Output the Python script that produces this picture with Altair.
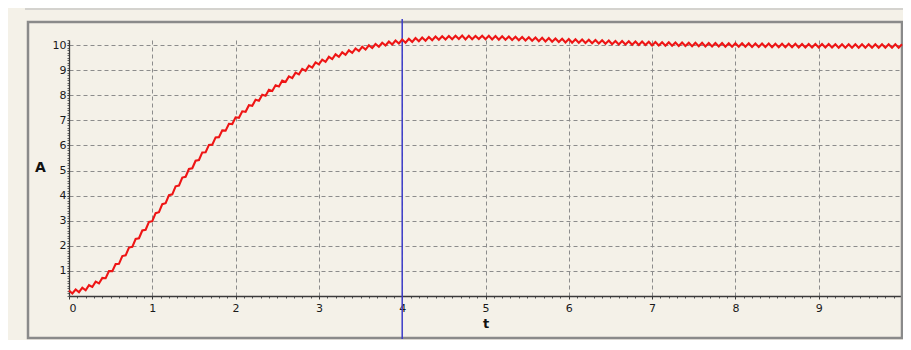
import altair as alt
import pandas as pd

t_step = 0.04
A_values = [
    0.22, 0.10, 0.26, 0.15, 0.33, 0.23, 0.43, 0.36, 0.57, 0.50, 0.72, 0.71, 0.99, 0.99, 1.27, 1.28, 1.59, 1.62, 1.93, 1.96, 2.27, 2.30, 2.61, 2.64, 2.95,
    2.98, 3.30, 3.34, 3.66, 3.70, 4.02, 4.05, 4.37, 4.40, 4.72, 4.75, 5.06, 5.09, 5.39, 5.42, 5.72, 5.73, 6.02, 6.03, 6.32, 6.33, 6.60, 6.59, 6.86, 6.85,
    7.12, 7.10, 7.36, 7.34, 7.60, 7.58, 7.82, 7.78, 8.02, 7.98, 8.22, 8.17, 8.40, 8.35, 8.58, 8.53, 8.75, 8.68, 8.90, 8.83, 9.05, 8.97, 9.18, 9.10, 9.31,
    9.23, 9.42, 9.33, 9.53, 9.44, 9.63, 9.53, 9.71, 9.61, 9.79, 9.69, 9.86, 9.76, 9.93, 9.82, 9.99, 9.88, 10.04, 9.93, 10.09, 9.98, 10.14, 10.02, 10.18, 10.06,
    10.22, 10.09, 10.25, 10.12, 10.28, 10.15, 10.30, 10.17, 10.32, 10.19, 10.34, 10.21, 10.35, 10.22, 10.36, 10.23, 10.37, 10.24, 10.38, 10.22, 10.37, 10.23, 10.36, 10.24, 10.37,
    10.23, 10.37, 10.22, 10.36, 10.21, 10.35, 10.21, 10.34, 10.20, 10.33, 10.19, 10.32, 10.18, 10.31, 10.17, 10.30, 10.15, 10.29, 10.14, 10.28, 10.13, 10.26, 10.12, 10.25, 10.10,
    10.24, 10.09, 10.23, 10.09, 10.22, 10.08, 10.21, 10.07, 10.20, 10.06, 10.19, 10.05, 10.18, 10.03, 10.16, 10.02, 10.16, 10.02, 10.15, 10.01, 10.14, 10.00, 10.14, 10.00, 10.13,
    9.98, 10.12, 9.98, 10.11, 9.97, 10.11, 9.97, 10.10, 9.96, 10.10, 9.96, 10.09, 9.95, 10.09, 9.95, 10.09, 9.94, 10.08, 9.94, 10.08, 9.94, 10.08, 9.93, 10.07, 9.93,
    10.07, 9.93, 10.07, 9.93, 10.07, 9.92, 10.06, 9.92, 10.06, 9.92, 10.06, 9.91, 10.05, 9.91, 10.05, 9.91, 10.05, 9.91, 10.05, 9.90, 10.04, 9.90, 10.04, 9.90, 10.04,
    9.90, 10.04, 9.90, 10.04, 9.90, 10.03, 9.89, 10.03, 9.89, 10.03, 9.89, 10.03, 9.89, 10.03, 9.89, 10.03, 9.89, 10.03, 9.89, 10.03, 9.89, 10.03, 9.89, 10.03, 9.89,
    10.03,
]
t_values = [round(i * t_step, 2) for i in range(len(A_values))]
x_tick_values = [0, 1, 2, 3, 4, 5, 6, 7, 8, 9]
y_tick_values = [1, 2, 3, 4, 5, 6, 7, 8, 9, 10]
marker_t = 4
x_title = "t"
y_title = "A"

df = pd.DataFrame({"t": t_values, "A": A_values})
one = pd.DataFrame({"k": [0]})

BG = "#F4F1E8"
FONT = "DejaVu Sans"

xs = alt.Scale(domain=[0, 10], nice=False, zero=False)
ys = alt.Scale(domain=[0, 10.2], nice=False)

major_x = alt.Axis(
    orient="bottom", values=x_tick_values, format="d", grid=True,
    gridDash=[4, 3], gridColor="#8c8c8c", gridWidth=1,
    domainColor="#3a3a3a", domainWidth=1.3, tickColor="#3a3a3a", tickSize=3,
    labelFont=FONT, labelFontSize=11, labelColor="#1a1a1a", labelPadding=3,
    title=x_title, titleFont=FONT, titleFontSize=13, titleFontWeight="bold",
    titleColor="#111111", titleY=27, titleBaseline="middle",
)
major_y = alt.Axis(
    orient="left", values=y_tick_values, format="d", grid=True,
    gridDash=[4, 3], gridColor="#8c8c8c", gridWidth=1,
    domainColor="#3a3a3a", domainWidth=1.3, tickColor="#3a3a3a", tickSize=2,
    labelFont=FONT, labelFontSize=11, labelColor="#1a1a1a", labelPadding=1,
    title=y_title, titleFont=FONT, titleFontSize=14, titleFontWeight="bold",
    titleColor="#111111", titleAngle=0, titleX=-29, titleY=127,
    titleAlign="center", titleBaseline="middle",
)
minor_x = alt.Axis(
    orient="bottom", values=[i / 10 for i in range(101) if i % 10 != 0],
    labels=False, domain=False, grid=False, ticks=True, tickSize=2,
    tickColor="#555555", title=None,
)
minor_y = alt.Axis(
    orient="left", values=[i / 10 for i in range(103)],
    labels=False, domain=False, grid=False, ticks=True, tickSize=2,
    tickColor="#666666", title=None,
)

curve = alt.Chart(df).mark_line(color="#ee1515", strokeWidth=2.1, clip=False).encode(
    x=alt.X("t:Q", scale=xs, axis=major_x),
    y=alt.Y("A:Q", scale=ys, axis=major_y),
)
minor = alt.Chart(df).mark_line(opacity=0).encode(
    x=alt.X("t:Q", scale=xs, axis=minor_x),
    y=alt.Y("A:Q", scale=ys, axis=minor_y),
)
marker = alt.Chart(one).mark_rule(color="#3b3bc8", strokeWidth=1.5, clip=False).encode(
    x=alt.XDatum(marker_t, axis=None),
    y=alt.value(-21),
    y2=alt.value(299),
)
frame = alt.Chart(one).mark_rect(filled=False, stroke="#8a8a8a", strokeWidth=2.5, clip=False).encode(
    x=alt.value(-41), x2=alt.value(833), y=alt.value(-18), y2=alt.value(298),
)
topline = alt.Chart(one).mark_rule(color="#b4b4b4", strokeWidth=1, clip=False).encode(
    x=alt.value(-44), x2=alt.value(834), y=alt.value(-31),
)

chart = (
    alt.layer(topline, frame, minor, marker, curve)
    .resolve_axis(x="independent", y="independent")
    .properties(
        width=833, height=256,
        autosize=alt.AutoSizeParams(type="none"),
        padding={"left": 61, "top": 32, "right": 1, "bottom": 44},
        background=BG,
    )
    .configure_view(stroke=None, fill=BG)
)

chart.save("out.html", embed_options={"renderer": "svg", "actions": False})
